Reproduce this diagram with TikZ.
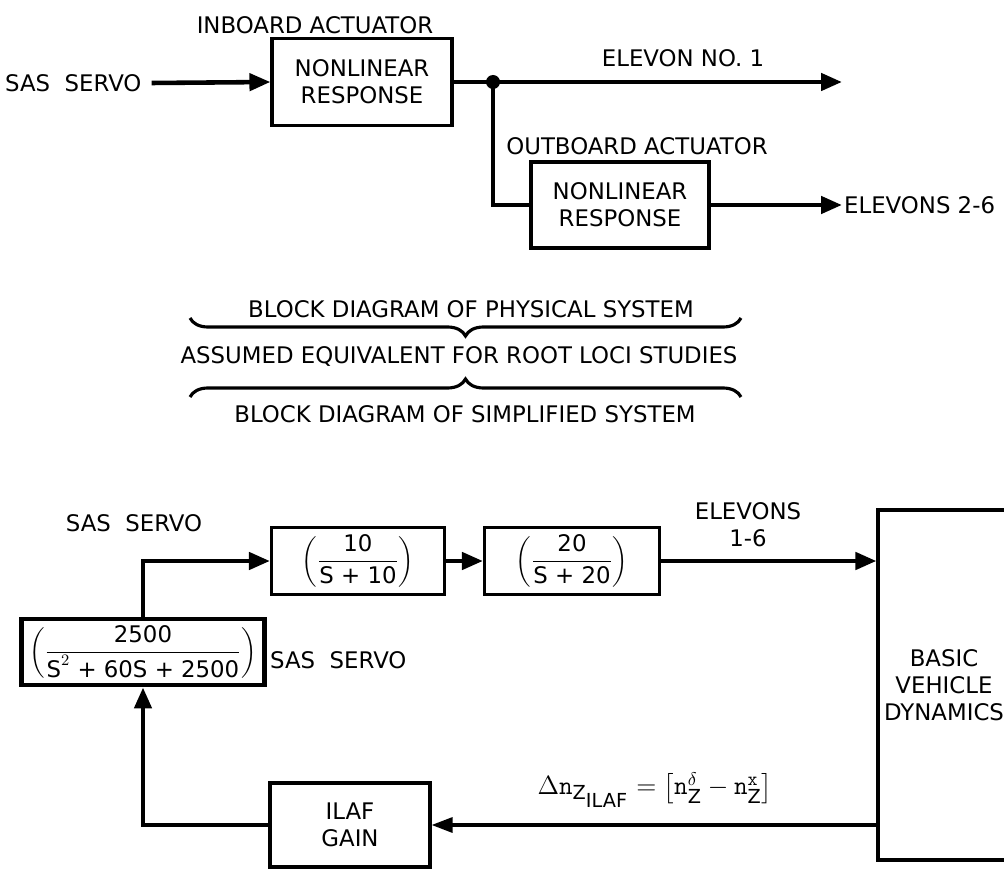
\RequirePackage{fix-cm}
\documentclass[tikz,border=0pt]{standalone}
\usepackage{amsmath}
\usepackage{fontspec}
\setsansfont{DejaVu Sans}
\usetikzlibrary{arrows.meta,positioning,calc,decorations.pathreplacing}
\newcommand{\subtxt}[1]{\mbox{\fontsize{11}{13}\selectfont\sffamily #1}}

\begin{document}
\begin{tikzpicture}[
  x=0.02cm, y=-0.02cm,
  font=\fontsize{13}{15.5}\selectfont\sffamily,
  blk/.style={draw, line width=1.8pt, align=center, inner sep=2pt},
  heavyblk/.style={blk, line width=2.8pt},
  sig/.style={line width=2.6pt, -{Triangle[length=0.42cm,width=0.34cm]}},
  wire/.style={line width=2.6pt},
  fb/.style={line width=1.8pt, -{Triangle[length=0.42cm,width=0.3cm]}},
  lbl/.style={inner sep=1pt},
  brc/.style={decorate, decoration={brace, amplitude=0.36cm}, line width=1.8pt}
]
\useasboundingbox (0,0) rectangle (1004,871);
% physical system
\node[lbl, anchor=west] (inlbl) at (3,83) {SAS\ \ SERVO};
\node[blk, minimum width=3.6cm, minimum height=1.74cm] (inb) at (362,82) {NONLINEAR\\RESPONSE};
\node[lbl] (inbtitle) at (315,25) {INBOARD ACTUATOR};
\draw[sig] (inlbl.east) ++(0.16cm,0) coordinate (instart) -- (inb.west);
\fill (493,82) circle (0.14cm) coordinate (split);
\draw[wire] (inb.east) -- (split);
\coordinate (el1end) at (842,82);
\draw[sig] (split) -- (el1end);
\node[lbl] (el1lbl) at (683,58) {ELEVON NO. 1};
\node[blk, minimum width=3.56cm, minimum height=1.72cm] (outb) at (620,205) {NONLINEAR\\RESPONSE};
\node[lbl] (outbtitle) at (637,146) {OUTBOARD ACTUATOR};
\draw[wire] (split) |- (outb.west);
\node[lbl, anchor=west] (el26lbl) at (842,205) {ELEVONS 2-6};
\draw[sig] (outb.east) -- (el26lbl.west);
% braces
\node[lbl] (phys) at (471,309) {BLOCK DIAGRAM OF PHYSICAL SYSTEM};
\draw[brc] (741,318) -- (190,318);
\node[lbl] (assumed) at (459,356) {ASSUMED EQUIVALENT FOR ROOT LOCI STUDIES};
\draw[brc] (190,397) -- (741,397);
\node[lbl] (simpl) at (465,414) {BLOCK DIAGRAM OF SIMPLIFIED SYSTEM};
% simplified system
\node[blk, minimum width=3.46cm, minimum height=1.34cm] (lagA) at (358,561)
  {$\left(\dfrac{\mbox{10}}{\mbox{S + 10}}\right)$};
\node[blk, minimum width=3.5cm, minimum height=1.34cm] (lagB) at (572,561)
  {$\left(\dfrac{\mbox{20}}{\mbox{S + 20}}\right)$};
\node[blk, minimum width=2.64cm, minimum height=7cm] (veh) at (944,685) {BASIC\\VEHICLE\\DYNAMICS};
\node[heavyblk, minimum width=4.86cm, minimum height=1.32cm, inner sep=0pt] (servo) at (143,652)
  {$\left(\dfrac{\mbox{2500}}{\mbox{S}^2\mbox{ + 60S + 2500}}\right)$};
\node[blk, minimum width=3.2cm, minimum height=1.68cm] (ilaf) at (350,825) {ILAF\\GAIN};
\draw[sig] (lagA.east) -- (lagB.west);
\draw[sig] (lagB.east) -- (lagB.east -| veh.west);
\node[lbl, align=center] (el16lbl) at (748,525) {ELEVONS\\1-6};
\draw[sig] (servo.north) |- (lagA.west);
\node[lbl] (servolbl) at (134,523) {SAS\ \ SERVO};
\node[lbl, anchor=west] (servolbl2) at (268,660) {SAS\ \ SERVO};
\draw[fb] (ilaf.east -| veh.west) -- (ilaf.east);
\node[lbl, font=\fontsize{15}{18}\selectfont\sffamily] (dnlbl) at (655,790)
  {$\Delta\mbox{\ttfamily n}_{\subtxt{Z}_{\subtxt{ILAF}}} = \left[\mbox{\ttfamily n}^{\delta}_{\subtxt{Z}}
   - \mbox{\ttfamily n}^{\subtxt{\ttfamily x}}_{\subtxt{Z}}\right]$};
\draw[sig] (ilaf.west) -| (servo.south);
\end{tikzpicture}
\end{document}
